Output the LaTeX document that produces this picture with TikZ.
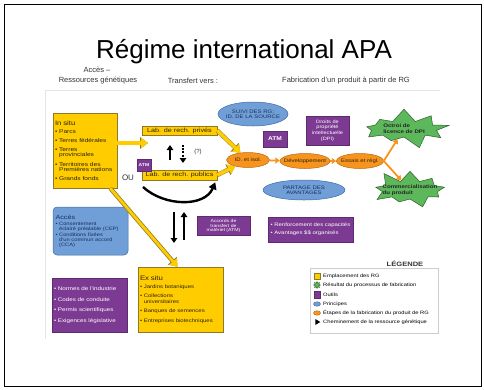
\documentclass[tikz,border=0pt]{standalone}
\usepackage{fontspec}
\setmainfont{Liberation Sans}
\newfontfamily\dgfont[FakeStretch=1.2]{Liberation Sans}
\usetikzlibrary{arrows.meta,shapes.geometric,shapes.symbols}
\definecolor{ylfill}{HTML}{FFCC00}
\definecolor{ylline}{HTML}{8C7A2A}
\definecolor{ppfill}{HTML}{7D3A92}
\definecolor{ppline}{HTML}{5E2A70}
\definecolor{blfill}{HTML}{6F9FD6}
\definecolor{blline}{HTML}{3F6AA3}
\definecolor{orfill}{HTML}{F7941D}
\definecolor{orline}{HTML}{B86A10}
\definecolor{grfill}{HTML}{5CB85A}
\definecolor{grline}{HTML}{2E5E2A}
\definecolor{panel}{HTML}{E6E6E6}
\definecolor{dktext}{HTML}{2B2410}
\definecolor{bltext}{HTML}{1C2E5C}
\begin{document}
\begin{tikzpicture}[x=1pt,y=-1pt,
  every node/.style={inner sep=0pt},
  dg/.style={font=\dgfont\fontsize{5}{5.2}\selectfont},
  lg/.style={font=\dgfont\fontsize{4.8}{5}\selectfont, anchor=west},
  hd/.style={font=\fontsize{7.5}{8}\selectfont, text=black!80},
  ylbox/.style={rectangle, draw=ylline, fill=ylfill, line width=0.5pt, text=dktext, dg},
  ppbox/.style={rectangle, draw=ppline, fill=ppfill, line width=0.4pt, text=white, dg, align=center},
  blell/.style={ellipse, draw=blline, fill=blfill, line width=0.5pt},
  orell/.style={ellipse, draw=orline, fill=orfill, line width=0.5pt},
  grburst/.style={starburst, starburst points=9, starburst point height=13pt, draw=grline, fill=grfill, line width=0.5pt},
  elltxt/.style={dg, align=center},
  ylarrow/.style={draw=ylfill, line width=3.5pt, -{Triangle[length=7pt,width=10pt]},
    preaction={draw=ylline, line width=4.3pt, -{Triangle[length=8pt,width=11.5pt]}}},
  orarrow/.style={draw=orfill, line width=1.8pt, -{Triangle[length=4.5pt,width=6pt]}},
  bkarrow/.style={draw=black, line width=2pt, -{Triangle[length=5pt,width=6.5pt]}}]
\useasboundingbox (0,0) rectangle (484,389);
\draw[line width=1.2pt] (4.5,4.5) rectangle (481.5,386.5);
\draw[panel, line width=1pt] (45,339) -- (45,90) -- (440,90);
\node[font=\fontsize{26}{30}\selectfont] (title) at (244,52) {Régime international APA};
\node[hd] (hdacc) at (97,70) {Accès –};
\node[hd] (hdres) at (98,81) {Ressources génétiques};
\node[hd] (hdtra) at (193,81) {Transfert vers :};
\node[hd] (hdfab) at (346,81) {Fabrication d'un produit à partir de RG};
\node[ylbox, minimum width=64pt, minimum height=75pt, text width=60pt, align=left,
  font=\dgfont\fontsize{5.5}{5.3}\selectfont] (insitu) at (85,150.5)
  {{\fontsize{6.5}{7}\selectfont In situ}\\[3pt]
   \textbullet\ Parcs\\[3.8pt]
   \textbullet\ Terres fédérales\\[3.8pt]
   \textbullet\ Terres\\\hphantom{\textbullet\ }provinciales\\[3.8pt]
   \textbullet\ Territoires des\\\hphantom{\textbullet\ }Premières nations\\[3.8pt]
   \textbullet\ Grands fonds\\[9pt]};
\node[ylbox, minimum width=75pt, minimum height=9pt, font=\dgfont\fontsize{6}{6}\selectfont] (priv) at (179.5,130.5) {Lab. de rech. privés};
\node[ylbox, minimum width=75pt, minimum height=10pt, font=\dgfont\fontsize{6}{6}\selectfont] (publ) at (179.5,175) {Lab. de rech. publics};
\node[ppbox, minimum width=14pt, minimum height=12pt, font=\dgfont\bfseries\fontsize{4.2}{5}\selectfont] (atma) at (144,165) {ATM};
\node[font=\fontsize{8}{8}\selectfont, text=black!80] (ou) at (128,178) {OU};
\node[font=\fontsize{6}{6}\selectfont, text=black!80] (quest) at (198,152) {(?)};
\coordinate (upbot) at (170,160);
\coordinate (uptop) at (170,145);
\coordinate (dntop) at (183,145);
\coordinate (dnbot) at (183,163);
\draw[bkarrow] (upbot) -- (uptop);
\draw[bkarrow, dash pattern=on 2pt off 1.2pt] (dntop) -- (dnbot);
\node[blell, minimum width=70pt, minimum height=24pt,
  label={[elltxt, text=bltext]center:SUIVI DES RG;\\ID. DE LA SOURCE}] (suivi) at (253,114) {};
\node[orell, minimum width=43pt, minimum height=15pt, label={[elltxt, text=dktext]center:ID. et isol.}] (idiso) at (248,160) {};
\node[orell, minimum width=50pt, minimum height=15pt, label={[elltxt, text=dktext]center:Développement}] (dev) at (305,161) {};
\node[orell, minimum width=47pt, minimum height=15pt, label={[elltxt, text=dktext]center:Essais et régl.}] (essais) at (360,161) {};
\node[ppbox, minimum width=24pt, minimum height=16pt, font=\dgfont\bfseries\fontsize{5.5}{6}\selectfont] (atmb) at (275,139) {ATM};
\node[ppbox, minimum width=43pt, minimum height=29pt, font=\dgfont\fontsize{4.7}{5.8}\selectfont] (dpi) at (327.5,130.5) {Droits de\\propriété\\intellectuelle\\(DPI)};
\node[blell, minimum width=82pt, minimum height=20pt,
  label={[elltxt, text=bltext]center:PARTAGE DES\\AVANTAGES}] (partage) at (304,190) {};
\node[grburst, random starburst=7, minimum width=92pt, minimum height=42pt,
  label={[align=left, text=black!85, font=\dgfont\bfseries\fontsize{5.1}{5.8}\selectfont]center:Octroi de\\licence de DPI}] (octroi) at (404,129) {};
\node[grburst, random starburst=11, minimum width=82pt, minimum height=44pt,
  label={[align=left, text=black!85, font=\dgfont\bfseries\fontsize{5.1}{5.8}\selectfont]center:Commercialisation\\du produit}] (comm) at (410,190) {};
\node[ppbox, minimum width=85pt, minimum height=25pt, text width=80pt, align=left] (renf) at (310.5,229.5)
  {\textbullet\ Renforcement des capacités\\[2.6pt]\textbullet\ Avantages \$\$ organisés};
\node[ppbox, minimum width=53pt, minimum height=19pt, font=\dgfont\fontsize{4.3}{4.6}\selectfont] (accords) at (223.5,226) {Accords de\\transfert de\\matériel (ATM)};
\node[rectangle, rounded corners=4pt, draw=blline, fill=blfill, line width=0.5pt, text=bltext,
  minimum width=75pt, minimum height=48pt, text width=70pt, align=left,
  font=\dgfont\fontsize{4.8}{4.8}\selectfont] (acces) at (90.5,231)
  {{\fontsize{6}{6}\selectfont Accès}\\[1.5pt]
   \textbullet\ Consentement\\\hphantom{\textbullet\ }éclairé préalable (CEP)\\[1.5pt]
   \textbullet\ Conditions fixées\\\hphantom{\textbullet\ }d'un commun accord\\\hphantom{\textbullet\ }(CCA)\\[3pt]};
\node[ppbox, minimum width=75pt, minimum height=54pt, text width=71pt, align=left,
  font=\dgfont\fontsize{5.2}{5.2}\selectfont] (normes) at (89.5,305)
  {\textbullet\ Normes de l'industrie\\[5.5pt]
   \textbullet\ Codes de conduite\\[5.5pt]
   \textbullet\ Permis scientifiques\\[5.5pt]
   \textbullet\ Exigences législative};
\node[ylbox, minimum width=85pt, minimum height=65pt, text width=81pt, align=left] (exsitu) at (180.5,299.5)
  {{\fontsize{6.5}{7}\selectfont Ex situ}\\[3pt]
   \textbullet\ Jardins botaniques\\[4.5pt]
   \textbullet\ Collections\\\hphantom{\textbullet\ }universitaires\\[4.5pt]
   \textbullet\ Banques de semences\\[4.5pt]
   \textbullet\ Entreprises biotechniques};
\coordinate (labin) at (148,143);
\draw[ylarrow] (insitu.east |- labin) -- (labin);
\draw[ylarrow] (priv.east) -- (idiso);
\draw[ylarrow] (publ.east) -- (idiso);
\draw[ylarrow, line width=2.8pt] ([xshift=-7pt]insitu.south east) -- ([xshift=-3pt]exsitu.north);
\coordinate (curvs) at (143,187);
\draw[line width=2.4pt, -{Triangle[length=7pt,width=8pt]}] (curvs) .. controls (165,207) and (205,207) .. ([xshift=-2pt,yshift=-2pt]publ.south east);
\coordinate (dvtop) at (174,212);
\coordinate (dvbot) at (174,243);
\coordinate (uvbot) at (184,240);
\coordinate (uvtop) at (184,212);
\draw[bkarrow] (dvtop) -- (dvbot);
\draw[bkarrow] (uvbot) -- (uvtop);
\draw[orarrow] (idiso) -- (dev);
\draw[orarrow] (dev) -- (essais);
\draw[orarrow] (essais.east) -- (octroi);
\draw[orarrow] (essais.east) -- (comm);
\node[font=\dgfont\bfseries\fontsize{6.3}{7}\selectfont, text=black!80] (legtitle) at (405,264) {LÉGENDE};
\node[draw=black!20, fill=white, line width=0.6pt, minimum width=128pt, minimum height=65pt] (legbox) at (374,300.5) {};
\node[rectangle, draw=ylline, fill=ylfill, minimum size=6pt] (legyl) at (317,276) {};
\node[star, star points=8, star point ratio=1.8, draw=grline, fill=grfill, minimum size=7pt] (leggr) at (317,285) {};
\node[rectangle, draw=ppline, fill=ppfill, minimum width=6pt, minimum height=7pt] (legpp) at (317,294.5) {};
\node[ellipse, draw=blline, fill=blfill, minimum width=7pt, minimum height=4.5pt] (legbl) at (317,304) {};
\node[ellipse, draw=orline, fill=orfill, minimum width=7pt, minimum height=4.5pt] (legor) at (317,313) {};
\node[isosceles triangle, isosceles triangle stretches, fill=black, minimum height=5pt, minimum width=6pt] (legtri) at (317,322) {};
\node[lg] (legyltx) at (323,276) {Emplacement des RG};
\node[lg] (leggrtx) at (323,285) {Résultat du processus de fabrication};
\node[lg] (legpptx) at (323,294.5) {Outils};
\node[lg] (legbltx) at (323,304) {Principes};
\node[lg] (legortx) at (323,313) {Étapes de la fabrication du produit de RG};
\node[lg] (legtritx) at (323,322) {Cheminement de la ressource génétique};
\end{tikzpicture}
\end{document}
